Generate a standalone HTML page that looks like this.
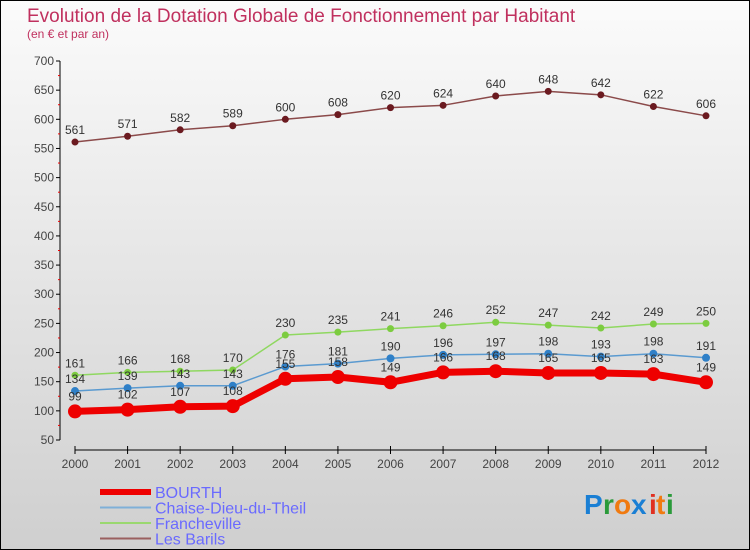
<!DOCTYPE html>
<html><head><meta charset="utf-8"><style>
body{margin:0}
#c{width:750px;height:550px;position:relative;overflow:hidden}
svg text{font-family:"Liberation Sans",sans-serif}
</style></head><body>
<div id="c">
<svg id="s" width="750" height="550" xmlns="http://www.w3.org/2000/svg">
<defs><linearGradient id="bg" x1="0" y1="0" x2="0" y2="1"><stop offset="0" stop-color="#fbfbfb"/><stop offset="1" stop-color="#cfcfcf"/></linearGradient></defs>
<rect x="0.5" y="0.5" width="749" height="549" fill="url(#bg)" stroke="#000"/>
<text x="27" y="22" font-size="19" fill="#c0305e">Evolution de la Dotation Globale de Fonctionnement par Habitant</text>
<text x="27" y="38" font-size="12" fill="#c0305e">(en € et par an)</text>
<g id="axes"></g><g id="series"></g><g id="legend"></g>
<g font-size="28" font-weight="bold">
<text x="584" y="514" fill="#1a7fd4">P</text><text x="603" y="514" fill="#2a9a3a">r</text><text x="614" y="514" fill="#f07a10">o</text><text x="631" y="514" fill="#1a7fd4">x</text><text x="649" y="514" fill="#e03020">i</text><text x="656" y="514" fill="#f07a10">t</text><text x="666" y="514" fill="#2a9a3a">i</text></g>
</svg></div>
<script>
const years=[2000,2001,2002,2003,2004,2005,2006,2007,2008,2009,2010,2011,2012];
const bourth=[99,102,107,108,155,158,149,166,168,165,165,163,149];
const chaise=[134,139,143,143,176,181,190,196,197,198,193,198,191];
const franch=[161,166,168,170,230,235,241,246,252,247,242,249,250];
const barils=[561,571,582,589,600,608,620,624,640,648,642,622,606];
const yTicks=[50,100,150,200,250,300,350,400,450,500,550,600,650,700];
const NS="http://www.w3.org/2000/svg";
const X=i=>75+i*(706-75)/12;
const Y=v=>440-(v-50)*(379/650);
function mk(p,t,a){const e=document.createElementNS(NS,t);for(const k in a)e.setAttribute(k,a[k]);p.appendChild(e);return e;}
const ax=document.getElementById('axes');
let l=mk(ax,'line',{x1:60,y1:Y(700),x2:60,y2:Y(50),stroke:'#000'});


l=mk(ax,'line',{x1:X(0),y1:450,x2:X(12),y2:450,stroke:'#000'});


yTicks.forEach(v=>{mk(ax,'line',{x1:56,y1:Y(v),x2:60,y2:Y(v),stroke:'#000'});
 mk(ax,'line',{x1:58,y1:Y(v+25),x2:60,y2:Y(v+25),stroke:v<700?'#e00':'none'});
 const t=mk(ax,'text',{x:54,y:Y(v)+4,'font-size':12,'text-anchor':'end',fill:'#444'});t.textContent=v;
 
 });
years.forEach((y,i)=>{mk(ax,'line',{x1:X(i),y1:446,x2:X(i),y2:454,stroke:'#000'});
 const t=mk(ax,'text',{x:X(i),y:468,'font-size':12,'text-anchor':'middle',fill:'#444'});t.textContent=y;
 
 });
const sg=document.getElementById('series');
function series(name,vals,col,w,r,dot,labOff){
 const g=mk(sg,'g',{});
 
 
 mk(g,'polyline',{points:vals.map((v,i)=>X(i)+','+Y(v)).join(' '),fill:'none',stroke:col,'stroke-width':w,'stroke-linejoin':'round'});
 vals.forEach((v,i)=>{const c=mk(g,'circle',{cx:X(i),cy:Y(v),r:r,fill:dot});
  
  
  const t=mk(g,'text',{x:X(i),y:Y(v)-labOff,'font-size':12,'text-anchor':'middle',fill:'#333'});t.textContent=v;
  
  });
}
series('les-barils',barils,'#8b4a4a',1.5,3.5,'#6b1a20',8);
series('francheville',franch,'#8fd860',1.5,3.5,'#7ccc40',8);
series('chaise-dieu-du-theil',chaise,'#5a9ad0',1.5,4,'#2f80c8',8);
series('bourth',bourth,'#ee0000',7,7,'#ee0000',11);
const lg=document.getElementById('legend');
[['BOURTH','#ee0000',6],['Chaise-Dieu-du-Theil','#7fb0d8',2],['Francheville','#9ad870',2],['Les Barils','#9a6060',2]].forEach((d,i)=>{
 const g=mk(lg,'g',{});
 
 
 const y=492+i*15.5;
 mk(g,'line',{x1:100,y1:y,x2:151,y2:y,stroke:d[1],'stroke-width':d[2]});
 const t=mk(g,'text',{x:155,y:y+6,'font-size':16,fill:'#6a6aff'});t.textContent=d[0];});
</script>
</body></html>
